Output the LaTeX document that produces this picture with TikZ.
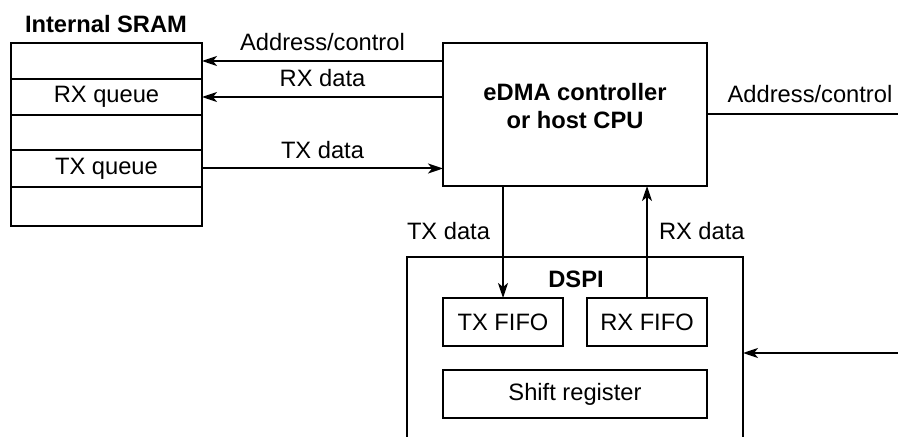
\documentclass[tikz,border=0pt]{standalone}
\usepackage{fontspec}
\setmainfont{Liberation Sans}
\usetikzlibrary{arrows.meta}
\begin{document}
\begin{tikzpicture}[x=0.5pt,y=-0.5pt,
  every node/.style={font=\fontsize{11.85}{14}\selectfont},
  box/.style={draw,line width=1pt,inner sep=0pt,outer sep=0pt},
  lbl/.style={inner sep=0pt},
  conn/.style={line width=1pt},
  arr/.style={conn,-{Stealth[length=7.5pt,width=5pt,inset=2pt]}},
  bold/.style={font=\fontsize{11.85}{14}\selectfont\bfseries}]
\useasboundingbox (0,0) rectangle (898,437);
% Internal SRAM
\node[lbl,bold] (sramt) at (106,24) {Internal SRAM};
\node[box,minimum width=95.5pt,minimum height=18pt] (r1) at (106.5,61) {};
\node[box,minimum width=95.5pt,minimum height=18pt] (r2) at (106.5,97) {RX queue};
\node[box,minimum width=95.5pt,minimum height=17.5pt] (r3) at (106.5,132.5) {};
\node[box,minimum width=95.5pt,minimum height=18.5pt] (r4) at (106.5,168.5) {TX queue};
\node[box,minimum width=95.5pt,minimum height=19.5pt] (r5) at (106.5,206.5) {};
% eDMA controller
\node[box,minimum width=132pt,minimum height=71.5pt] (cpu) at (575,114.5) {};
\node[lbl,bold,align=center] (cpulbl) at (575,106) {eDMA controller\\or host CPU};
% DSPI
\node[minimum width=168pt,minimum height=90pt,inner sep=0pt,outer sep=0pt] (dspi) at (575,347) {};
\draw[conn] (dspi.south west) -- (dspi.north west) -- (dspi.north east) -- (dspi.south east);
\node[lbl,bold] (dspit) at (576,279) {DSPI};
\node[box,minimum width=60pt,minimum height=24pt] (txf) at (503,322) {TX FIFO};
\node[box,minimum width=60pt,minimum height=24pt] (rxf) at (647,322) {RX FIFO};
\node[box,minimum width=132pt,minimum height=24pt] (shr) at (575,394) {Shift register};
% connectors
\draw[arr] (cpu.west |- r1.east) -- node[lbl,above=4.5pt] {Address/control} (r1.east);
\draw[arr] (cpu.west |- r2.east) -- node[lbl,above=4.5pt] {RX data} (r2.east);
\draw[arr] (r4.east) -- node[lbl,above=4.5pt] {TX data} (cpu.west |- r4.east);
\coordinate (aout) at (898,114.5);
\draw[conn] (cpu.east) -- (aout);
\node[lbl,anchor=base] (aoutl) at (810,103) {Address/control};
\draw[arr] (cpu.south -| txf.north) -- node[lbl,pos=0.4,left=6pt] {TX data} (txf.north);
\draw[arr] (rxf.north) -- node[lbl,pos=0.6,right=5.5pt] {RX data} (cpu.south -| rxf.north);
\coordinate (rin) at (898,353);
\draw[arr] (rin) -- (dspi.east |- rin);
\end{tikzpicture}
\end{document}
